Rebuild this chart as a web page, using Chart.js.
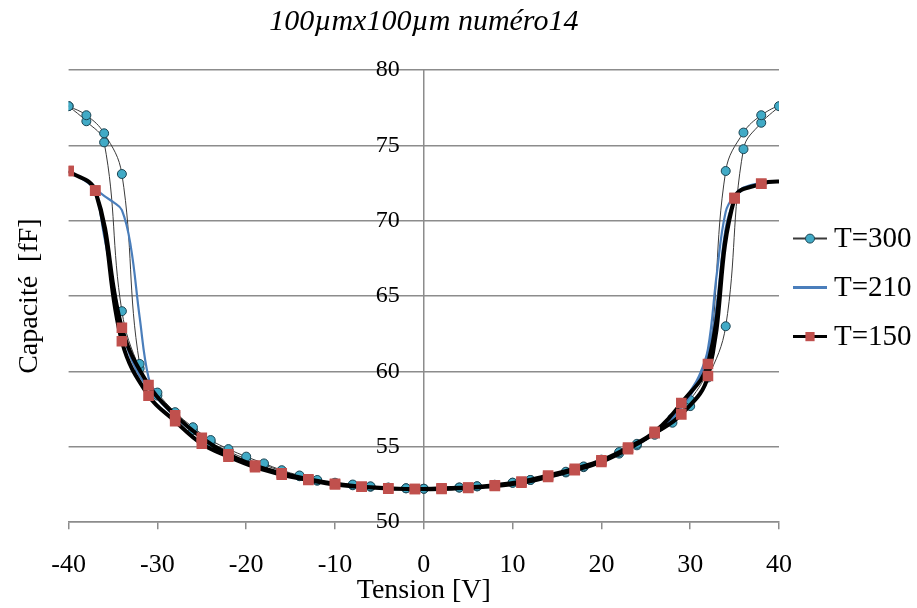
<!DOCTYPE html>
<html><head><meta charset="utf-8">
<script src="https://cdn.jsdelivr.net/npm/chart.js@4"></script>
<style>html,body{margin:0;padding:0;background:#fff;}</style>
</head><body>
<canvas id="c" width="917" height="608"></canvas>
<script>
// ---- texts ----
const chartTitle = '100µmx100µm numéro14';
const xAxisTitle = 'Tension [V]';
const yAxisTitle = 'Capacité  [fF]';
const seriesNames = ['T=300', 'T=210', 'T=150'];
// ---- tick labels ----
const xTickValues = [-40, -30, -20, -10, 0, 10, 20, 30, 40];
const yTickValues = [50, 55, 60, 65, 70, 75, 80];
// ---- T=300 (loop: forward then backward) ----
const t300V = [-40,-38,-36,-34,-32,-30,-28,-26,-24,-22,-20,-18,-16,-14,-12,-10,-8,-6,-4,-2,0,2,4,6,8,10,12,14,16,18,20,22,24,26,28,30,32,34,36,38,40,
               38,36,34,32,30,28,26,24,22,20,18,16,14,12,10,8,6,4,2,0,-2,-4,-6,-8,-10,-12,-14,-16,-18,-20,-22,-24,-26,-28,-30,-32,-34,-36,-38,-40];
const t300C = [77.6,76.6,75.2,64.0,60.2,58.4,57.1,56.1,55.3,54.7,54.2,53.8,53.4,53.05,52.75,52.55,52.45,52.35,52.28,52.25,52.22,52.25,52.3,52.38,52.48,52.62,52.8,53.0,53.3,53.65,54.05,54.55,55.1,55.8,56.6,57.7,59.6,63.0,74.75,76.5,77.6,
               77.0,75.85,73.3,60.4,58.1,56.9,55.95,55.2,54.65,54.15,53.7,53.35,53.05,52.8,52.62,52.48,52.38,52.3,52.25,52.22,52.25,52.3,52.38,52.5,52.62,52.8,53.1,53.45,53.9,54.35,54.85,55.45,56.3,57.3,58.6,60.5,73.1,75.8,77.0,77.6];
// ---- T=210 (loop, no markers) ----
const t210V = [-40,-38,-37,-36,-35,-34,-33,-32,-31,-30,-28,-26,-24,-22,-20,-16,-12,-8,-4,0,4,8,12,16,20,24,26,28,29,30,31,32,33,34,35,36,38,40,
               38,36,35,34,33,32,31,30,29,28,26,24,20,16,12,8,4,0,-4,-8,-12,-16,-20,-22,-24,-26,-28,-30,-31,-32,-33,-34,-35,-36,-38,-40];
const t210C = [73.3,72.6,72.0,69.0,65.9,62.8,60.9,59.7,58.9,58.2,57.0,56.0,55.2,54.55,54.0,53.25,52.75,52.42,52.25,52.2,52.25,52.42,52.75,53.25,54.0,55.15,55.9,56.9,57.6,58.4,59.4,60.9,64.5,69.5,71.4,72.1,72.5,72.6,
               72.5,72.2,71.7,70.6,66.5,61.5,59.7,58.7,57.9,57.1,56.0,55.2,54.05,53.3,52.8,52.45,52.27,52.2,52.25,52.42,52.75,53.25,54.0,54.55,55.2,56.0,57.0,58.4,59.6,63.6,68.3,70.7,71.25,71.65,72.6,73.3];
// ---- T=150 (loop) ----
const t150V = [-40,-37,-34,-31,-28,-25,-22,-19,-16,-13,-10,-7,-4,-1,2,5,8,11,14,17,20,23,26,29,32,35,38,40,
               38,35,32,29,26,23,20,17,14,11,8,5,2,-1,-4,-7,-10,-13,-16,-19,-22,-25,-28,-31,-34,-37,-40];
const t150C = [73.3,72.0,62.9,59.1,57.1,55.6,54.5,53.75,53.25,52.85,52.55,52.35,52.23,52.2,52.2,52.28,52.4,52.62,53.0,53.45,54.0,54.85,55.9,57.15,59.7,71.5,72.45,72.6,
               72.45,71.5,60.5,57.9,56.0,54.95,54.1,53.55,53.1,52.7,52.45,52.3,52.25,52.2,52.25,52.35,52.5,52.8,53.15,53.65,54.35,55.2,56.7,58.4,62.0,72.0,73.3];

const zip = (xs, ys) => xs.map((x, i) => ({x: x, y: ys[i]}));
const FONT = "'Liberation Serif', 'Times New Roman', serif";
const GRID = '#8c8c8c';

const legendPlugin = {
  id: 'lineLegend',
  afterDraw(chart) {
    const ctx = chart.ctx, ca = chart.chartArea;
    const x0 = ca.right + 14, x1 = x0 + 34, tx = x1 + 7;
    const yc = (ca.top + ca.bottom) / 2 - 8.5, gap = 49;
    chart.data.datasets.forEach((ds, i) => {
      const y = yc + (i - 1) * gap;
      ctx.save();
      ctx.strokeStyle = ds.borderColor;
      ctx.lineWidth = ds.legendLineWidth;
      ctx.beginPath(); ctx.moveTo(x0, y); ctx.lineTo(x1, y); ctx.stroke();
      if (ds.legendRadius) {
        ctx.fillStyle = ds.pointBackgroundColor;
        ctx.strokeStyle = ds.pointBorderColor;
        ctx.lineWidth = ds.pointBorderWidth;
        Chart.helpers.drawPoint(ctx, {pointStyle: ds.pointStyle, radius: ds.legendRadius, rotation: 0, borderWidth: ds.pointBorderWidth}, (x0 + x1) / 2, y);
      }
      ctx.fillStyle = '#000';
      ctx.font = '29px ' + FONT;
      ctx.textBaseline = 'middle';
      ctx.textAlign = 'left';
      ctx.fillText(ds.label, tx, y + 1);
      ctx.restore();
    });
  }
};

new Chart(document.getElementById('c'), {
  type: 'scatter',
  data: {
    datasets: [
      {
        label: seriesNames[0], data: zip(t300V, t300C), showLine: true, order: 3,
        borderColor: '#3a3a3a', borderWidth: 1, tension: 0.4,
        pointStyle: 'circle', pointRadius: 4.5, legendRadius: 4.5,
        pointBackgroundColor: '#41aac6', pointBorderColor: '#1c4452', pointBorderWidth: 1,
        legendLineWidth: 2
      },
      {
        label: seriesNames[1], data: zip(t210V, t210C), showLine: true, order: 2,
        borderColor: '#4a7ebb', borderWidth: 2.2, tension: 0.4,
        pointRadius: 0, legendRadius: 0, legendLineWidth: 3
      },
      {
        label: seriesNames[2], data: zip(t150V, t150C), showLine: true, order: 1,
        borderColor: '#000000', borderWidth: 4, tension: 0.4,
        pointStyle: 'rect', legendRadius: 6.5,
        pointRadius: ctx => (ctx.raw && ctx.raw.x === 40) ? 0 : 7.5,
        pointBackgroundColor: '#c0504d', pointBorderColor: '#c0504d', pointBorderWidth: 0,
        legendLineWidth: 3
      }
    ]
  },
  options: {
    responsive: false,
    animation: false,
    events: [],
    layout: { padding: { left: 5, right: 138, top: 0, bottom: 0 } },
    plugins: {
      legend: { display: false },
      tooltip: { enabled: false },
      title: {
        display: true, text: chartTitle, color: '#000', fullSize: false,
        font: { family: FONT, size: 30, style: 'italic', weight: 'normal', lineHeight: 1.2 },
        padding: { top: 4, bottom: 30 }
      }
    },
    scales: {
      x: {
        type: 'linear', min: -40, max: 40,
        afterBuildTicks: s => { s.ticks = xTickValues.map(v => ({value: v})); },
        grid: { display: true, drawOnChartArea: false, drawTicks: true, tickLength: 7, color: GRID, lineWidth: 1.5 },
        border: { display: true, color: GRID, width: 1.5 },
        ticks: { color: '#000', font: { family: FONT, size: 26, lineHeight: 1.2 }, padding: 20, maxRotation: 0 },
        title: { display: true, text: xAxisTitle, color: '#000', font: { family: FONT, size: 28, lineHeight: 1.2 }, padding: { top: -27, bottom: 1 } }
      },
      y: {
        type: 'linear', min: 50, max: 80, position: 'center',
        afterBuildTicks: s => { s.ticks = yTickValues.map(v => ({value: v})); },
        grid: { display: true, drawTicks: false, color: GRID, lineWidth: 1.5 },
        border: { display: true, color: GRID, width: 1.5 },
        ticks: { color: '#000', font: { family: FONT, size: 24 }, padding: 24 }
      },
      yT: {
        type: 'linear', min: 50, max: 80, position: 'left',
        grid: { display: false, drawTicks: false },
        border: { display: false },
        ticks: { display: false },
        title: { display: true, text: yAxisTitle, color: '#000', font: { family: FONT, size: 28 }, padding: { top: 8, bottom: 22 } }
      }
    }
  },
  plugins: [legendPlugin]
});
</script>
</body></html>
